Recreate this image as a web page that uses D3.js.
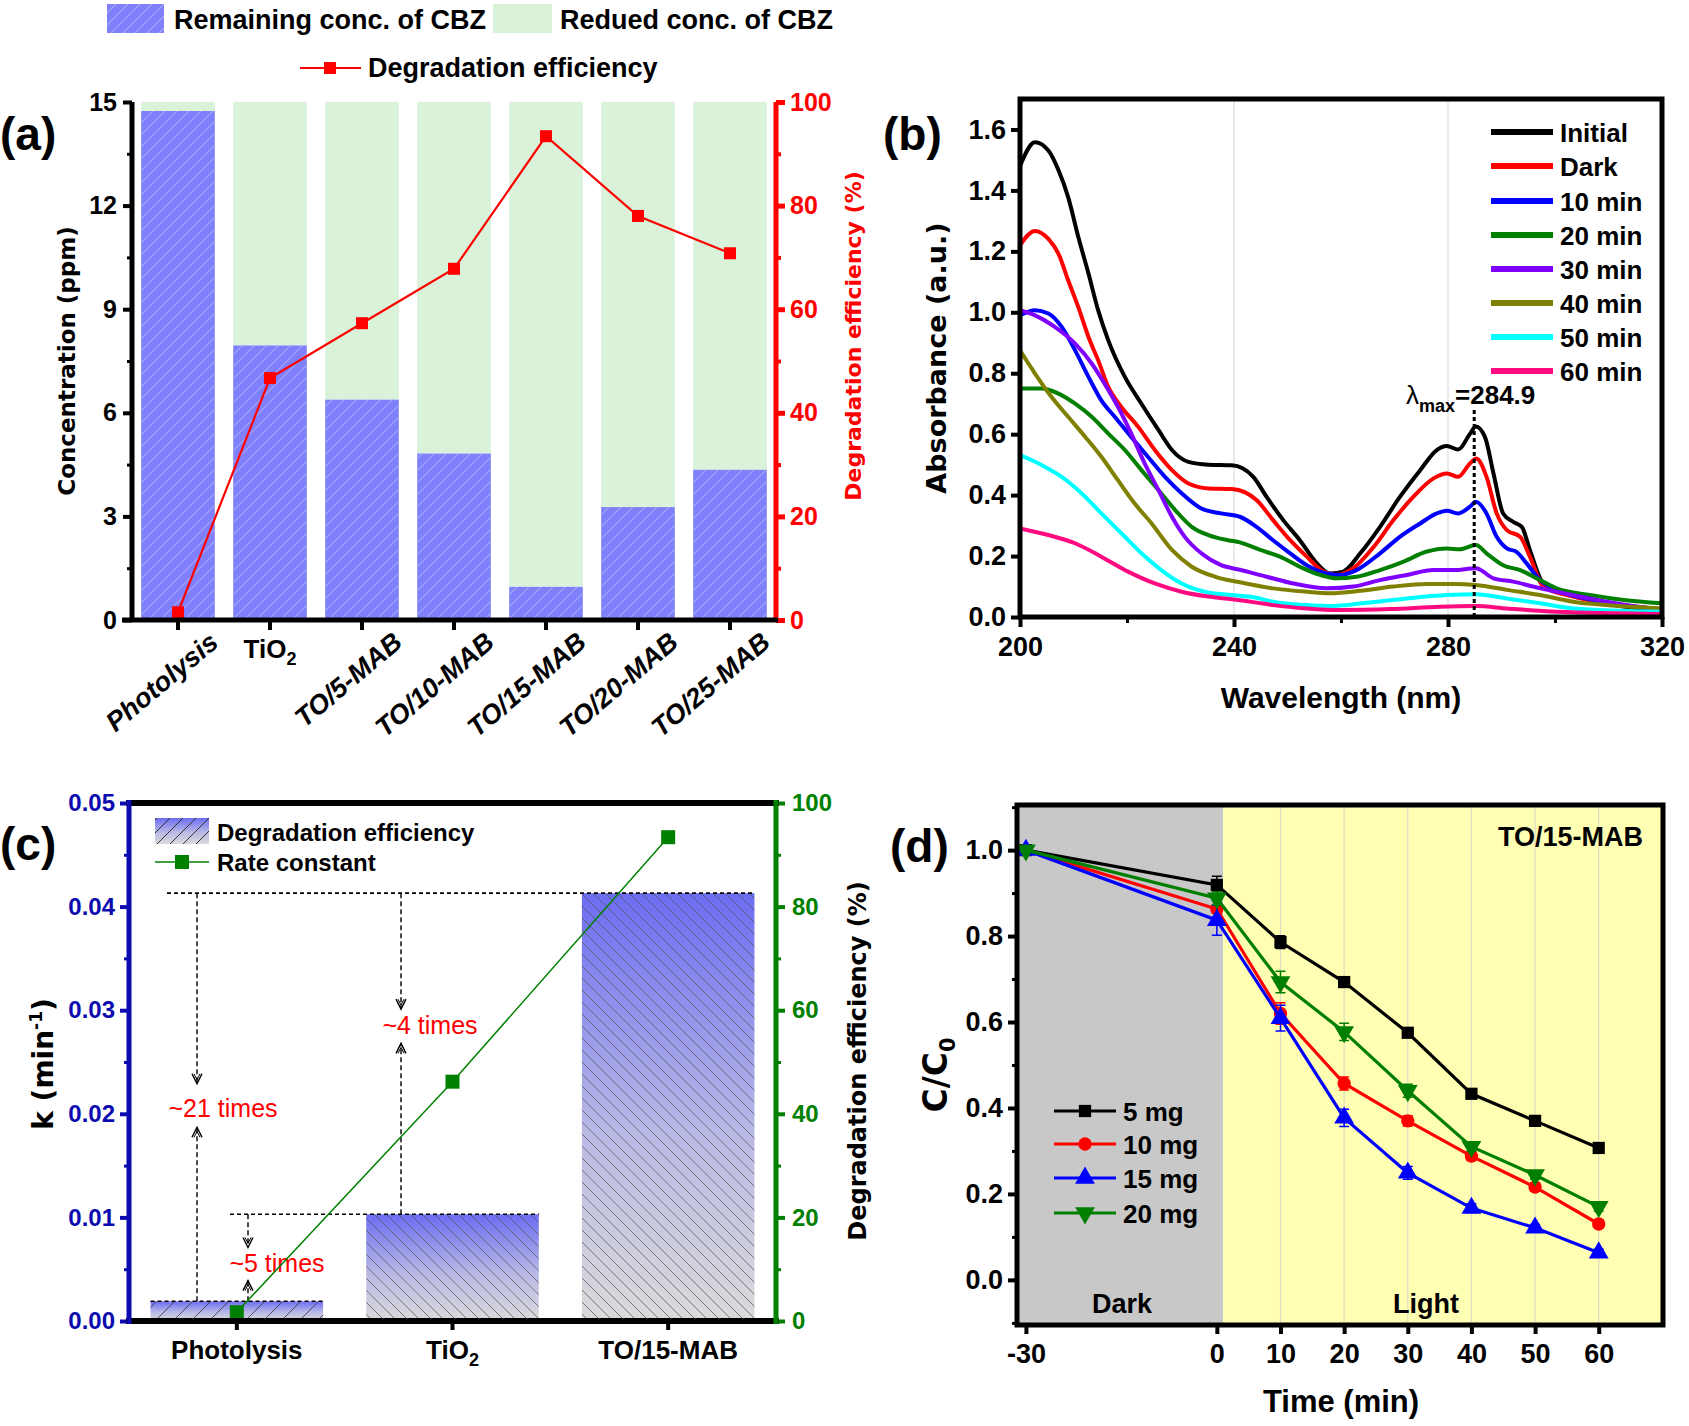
<!DOCTYPE html>
<html>
<head>
<meta charset="utf-8">
<script src="https://cdn.jsdelivr.net/npm/d3@7"></script>
<style>
  body { margin: 0; background: #fff; }
</style>
</head>
<body>
<script>
// ---------- data ----------
// (a) concentration of CBZ and degradation efficiency
var catsA = ["Photolysis", "TiO2", "TO/5-MAB", "TO/10-MAB", "TO/15-MAB", "TO/20-MAB", "TO/25-MAB"];
var initialConc = 15;
var remainingConc = [14.74, 7.95, 6.38, 4.82, 0.96, 3.27, 4.35];
var effA = [1.5, 46.7, 57.3, 67.8, 93.4, 78.0, 70.8];

// (b) UV-vis spectra, [wavelength nm, absorbance]
var specNames = ["Initial", "Dark", "10 min", "20 min", "30 min", "40 min", "50 min", "60 min"];
var specColors = ["#000000", "#ff0000", "#0000ff", "#007f00", "#8000ff", "#808000", "#00ffff", "#ff0a80"];
var specInitial = [[200,1.48],[202.8,1.558],[205.3,1.531],[207.2,1.466],[209,1.378],[210.9,1.247],[212.8,1.127],[214.6,1.007],[216.5,0.908],[219.6,0.788],[222.7,0.70],[225.9,0.613],[228.4,0.548],[231.5,0.509],[235.2,0.50],[239.6,0.498],[241.6,0.488],[243.6,0.46],[246.1,0.394],[249.2,0.318],[252.3,0.252],[255.5,0.176],[257.9,0.143],[260.4,0.149],[263.6,0.209],[267.3,0.296],[271,0.394],[274.8,0.482],[277.9,0.548],[279.8,0.561],[281.9,0.55],[284.1,0.601],[285.2,0.625],[286.9,0.591],[288.5,0.471],[290.3,0.34],[292.2,0.312],[293.8,0.296],[295.3,0.22],[297.8,0.11],[300.3,0.089],[306.5,0.056],[312.8,0.034],[320,0.023]];
var specDark = [[200,1.22],[202.8,1.267],[205.3,1.241],[207.2,1.192],[209,1.105],[210.9,1.017],[212.8,0.919],[214.6,0.843],[216.5,0.755],[218.9,0.69],[222.1,0.624],[225.2,0.548],[228.4,0.482],[231.5,0.438],[235.2,0.422],[239.6,0.42],[242,0.41],[244.2,0.384],[247.3,0.318],[250.5,0.252],[253.6,0.198],[256.7,0.149],[259.2,0.138],[262.3,0.16],[266.1,0.23],[269.8,0.318],[273.5,0.394],[277.3,0.455],[279.8,0.471],[281.9,0.46],[284.1,0.504],[285.3,0.52],[287.2,0.46],[289.1,0.34],[291,0.285],[293.5,0.263],[295.3,0.198],[297.8,0.10],[303.4,0.067],[310,0.045],[320,0.025]];
var spec10 = [[200,0.99],[202.8,1.007],[205.3,0.996],[207.8,0.952],[210.3,0.875],[212.8,0.788],[215.2,0.711],[217.7,0.657],[220.8,0.591],[223.9,0.526],[227.1,0.46],[230.2,0.406],[233.9,0.356],[237.6,0.34],[241.1,0.329],[244.2,0.296],[247.3,0.252],[250.5,0.209],[253.6,0.17],[257.3,0.143],[259.8,0.138],[262.9,0.154],[267.3,0.209],[271,0.263],[274.8,0.307],[277.9,0.34],[279.8,0.349],[281.9,0.34],[284.1,0.362],[285.2,0.378],[287.2,0.34],[289.1,0.263],[291,0.225],[292.8,0.214],[294.7,0.176],[297.2,0.121],[300.3,0.089],[306,0.06],[312,0.04],[320,0.025]];
var spec20 = [[200,0.75],[204.1,0.75],[207.2,0.733],[210.3,0.70],[213.4,0.657],[216.5,0.602],[219.6,0.548],[222.7,0.482],[225.9,0.416],[229,0.351],[232.1,0.296],[235.2,0.269],[238.9,0.252],[241.1,0.245],[244.9,0.22],[248.6,0.198],[252.3,0.165],[256.1,0.138],[259.2,0.127],[262.9,0.132],[267.3,0.154],[271.6,0.181],[275.9,0.214],[279.8,0.225],[282.2,0.222],[285.2,0.236],[287.2,0.209],[290.3,0.17],[293.5,0.154],[297.2,0.121],[300.3,0.094],[306.5,0.072],[312.8,0.056],[320,0.045]];
var spec30 = [[200,1.007],[202.8,0.99],[206.5,0.952],[210.3,0.897],[213.4,0.832],[215.8,0.766],[218.3,0.69],[220.8,0.602],[223.3,0.504],[225.9,0.416],[228.4,0.329],[230.8,0.263],[233.9,0.209],[237.6,0.17],[241.1,0.155],[246.1,0.132],[251.1,0.11],[257.3,0.094],[262.3,0.10],[267.3,0.121],[272.3,0.138],[277.3,0.154],[281,0.154],[285.2,0.16],[288.5,0.127],[292.2,0.116],[295.9,0.10],[300.3,0.083],[309.6,0.05],[320,0.023]];
var spec40 = [[200,0.875],[202.8,0.799],[205.9,0.722],[209,0.657],[212.2,0.591],[215.2,0.526],[218.3,0.449],[221.4,0.373],[224.6,0.307],[228.4,0.22],[232.1,0.165],[236.5,0.132],[241.1,0.114],[247.3,0.094],[253.6,0.083],[257.9,0.078],[263.6,0.086],[269.8,0.10],[276.1,0.108],[281,0.108],[285.2,0.105],[291,0.089],[297.2,0.072],[303.4,0.05],[309.6,0.039],[320,0.028]];
var spec50 = [[200,0.531],[204.1,0.498],[207.8,0.46],[211.5,0.406],[215.2,0.34],[219,0.274],[222.7,0.209],[226.4,0.154],[230.2,0.11],[234.5,0.083],[239.5,0.072],[243.9,0.064],[247.3,0.05],[253.6,0.039],[257.9,0.036],[264.8,0.047],[272.3,0.061],[279.8,0.072],[285.2,0.075],[291,0.061],[297.2,0.045],[303.4,0.028],[320,0.017]];
var spec60 = [[200,0.291],[205.3,0.269],[210.3,0.242],[215.2,0.198],[220.2,0.149],[225.2,0.11],[230.2,0.083],[235.2,0.067],[239.6,0.058],[243.9,0.048],[247.3,0.039],[253.6,0.028],[259.8,0.023],[269.2,0.026],[278.5,0.034],[285.2,0.036],[291,0.028],[300.3,0.017],[320,0.01]];
var spectra = [specInitial, specDark, spec10, spec20, spec30, spec40, spec50, spec60];
var lambdaMax = 284.9;

// (c) rate constants and degradation efficiency
var catsC = ["Photolysis", "TiO2", "TO/15-MAB"];
var kValues = [0.0019, 0.0103, 0.0413];
var effC = [1.7, 46.2, 93.4];

// (d) C/C0 vs time for catalyst doses
var timeD = [-30, 0, 10, 20, 30, 40, 50, 60];
var doseNames = ["5 mg", "10 mg", "15 mg", "20 mg"];
var doseColors = ["#000000", "#ff0000", "#0000ff", "#007f00"];
var mg5 = [1.0, 0.919, 0.786, 0.693, 0.575, 0.433, 0.37, 0.307];
var mg10 = [1.0, 0.863, 0.62, 0.457, 0.37, 0.288, 0.216, 0.13];
var mg15 = [1.0, 0.837, 0.609, 0.377, 0.249, 0.167, 0.121, 0.063];
var mg20 = [1.0, 0.888, 0.693, 0.577, 0.44, 0.31, 0.244, 0.17];
var err5 = [0.005, 0.02, 0.015, 0.012, 0.01, 0.008, 0.008, 0.008];
var err10 = [0.005, 0.02, 0.025, 0.015, 0.012, 0.01, 0.01, 0.008];
var err15 = [0.01, 0.035, 0.03, 0.02, 0.015, 0.01, 0.008, 0.008];
var err20 = [0.005, 0.015, 0.025, 0.02, 0.015, 0.01, 0.01, 0.01];

// ---------- setup ----------
var W = 1689, H = 1426;
var ARIAL = "'Liberation Sans', Arial, sans-serif";
var WIDE = "'DejaVu Sans', Verdana, sans-serif";

var svg = d3.select("body").append("svg")
    .attr("width", W).attr("height", H)
    .style("font-family", ARIAL).style("font-weight", "bold");
svg.append("rect").attr("width", W).attr("height", H).attr("fill", "#fff");
var defs = svg.append("defs");

function hatch(id, size, dir, color, sw) {
  var p = defs.append("pattern").attr("id", id)
      .attr("patternUnits", "userSpaceOnUse").attr("width", size).attr("height", size);
  var d = dir === "/"
    ? "M0," + size + "L" + size + ",0 M-3,3L3,-3 M" + (size - 3) + "," + (size + 3) + "L" + (size + 3) + "," + (size - 3)
    : "M0,0L" + size + "," + size + " M-3," + (size - 3) + "L3," + (size + 3) + " M" + (size - 3) + ",-3L" + (size + 3) + ",3";
  p.append("path").attr("d", d).attr("stroke", color).attr("stroke-width", sw).attr("fill", "none");
}
hatch("hatchA", 12, "/", "#a3a3ff", 1.2);
hatch("hatchBack", 12, "\\", "#555", 0.9);
hatch("hatchFwd", 18, "/", "#333", 1);
hatch("hatchLeg", 13, "/", "#333", 1);

var grad = defs.append("linearGradient").attr("id", "gradC")
    .attr("x1", 0).attr("y1", 0).attr("x2", 0).attr("y2", 1);
grad.append("stop").attr("offset", 0).attr("stop-color", "#6c6cf2");
grad.append("stop").attr("offset", 0.55).attr("stop-color", "#b8b8e6");
grad.append("stop").attr("offset", 1).attr("stop-color", "#dadada");

function fmtAxis(g, color, lw, fs) {
  g.attr("font-family", null).attr("font-size", null);
  g.select(".domain").remove();
  g.selectAll(".tick line").attr("stroke", color).attr("stroke-width", lw);
  g.selectAll(".tick text").attr("fill", color).style("font-size", fs + "px")
    .style("font-family", ARIAL).style("font-weight", "bold");
}

function vTitle(g, txt, x, y, size, color) {
  return g.append("text").attr("transform", "translate(" + x + "," + y + ") rotate(-90)")
      .attr("text-anchor", "middle").style("font-family", WIDE).style("font-size", size + "px")
      .attr("fill", color || "#000").text(txt);
}

// ======================= (a) =======================
var gA = svg.append("g");
var xA = d3.scaleBand().domain(catsA).range([132, 776]).paddingInner(0.2).paddingOuter(0.1);
var yA = d3.scaleLinear().domain([0, 15]).range([620, 102]);
var yA2 = d3.scaleLinear().domain([0, 100]).range([620, 102]);
var bwA = xA.bandwidth();

gA.selectAll("rect.reduced").data(catsA).join("rect")
  .attr("x", d => xA(d)).attr("width", bwA)
  .attr("y", yA(initialConc))
  .attr("height", (d, i) => yA(remainingConc[i]) - yA(initialConc))
  .attr("fill", "#d9f2d9");
gA.selectAll("rect.remaining").data(catsA).join("rect")
  .attr("x", d => xA(d)).attr("width", bwA)
  .attr("y", (d, i) => yA(remainingConc[i]))
  .attr("height", (d, i) => yA(0) - yA(remainingConc[i]))
  .attr("fill", "#8080fc");
gA.selectAll("rect.hatchA").data(catsA).join("rect")
  .attr("x", d => xA(d)).attr("width", bwA)
  .attr("y", (d, i) => yA(remainingConc[i]))
  .attr("height", (d, i) => yA(0) - yA(remainingConc[i]))
  .attr("fill", "url(#hatchA)");

var lineA = d3.line().x((d, i) => xA(catsA[i]) + bwA / 2).y(d => yA2(d));
gA.append("path").attr("d", lineA(effA)).attr("fill", "none").attr("stroke", "#ff0000").attr("stroke-width", 2.2);
gA.selectAll("rect.markA").data(effA).join("rect")
  .attr("x", (d, i) => xA(catsA[i]) + bwA / 2 - 6).attr("y", d => yA2(d) - 6)
  .attr("width", 12).attr("height", 12).attr("fill", "#ff0000");

gA.append("g").attr("transform", "translate(132,0)")
  .call(d3.axisLeft(yA).tickValues([0, 3, 6, 9, 12, 15]).tickSize(9).tickPadding(6))
  .call(fmtAxis, "#000", 4, 25);
gA.append("g").attr("transform", "translate(132,0)")
  .call(d3.axisLeft(yA).tickValues([1.5, 4.5, 7.5, 10.5, 13.5]).tickSize(5).tickFormat(""))
  .call(fmtAxis, "#000", 3, 25);
gA.append("g").attr("transform", "translate(776,0)")
  .call(d3.axisRight(yA2).tickValues([0, 20, 40, 60, 80, 100]).tickSize(9).tickPadding(5))
  .call(fmtAxis, "#ff0000", 5, 25);
gA.append("g").attr("transform", "translate(776,0)")
  .call(d3.axisRight(yA2).tickValues([10, 30, 50, 70, 90]).tickSize(5).tickFormat(""))
  .call(fmtAxis, "#ff0000", 4, 25);
gA.append("g").attr("transform", "translate(0,620)")
  .call(d3.axisBottom(xA).tickSize(10).tickFormat(""))
  .call(fmtAxis, "#000", 4, 25);
gA.append("line").attr("x1", 132).attr("x2", 132).attr("y1", 622).attr("y2", 102).attr("stroke", "#000").attr("stroke-width", 5);
gA.append("line").attr("x1", 776).attr("x2", 776).attr("y1", 622).attr("y2", 102).attr("stroke", "#ff0000").attr("stroke-width", 5);
gA.append("line").attr("x1", 122).attr("x2", 778).attr("y1", 620).attr("y2", 620).attr("stroke", "#000").attr("stroke-width", 5);

catsA.forEach(function (c) {
  var cx = xA(c) + bwA / 2;
  if (c === "TiO2") {
    var t = gA.append("text").attr("x", cx).attr("y", 658).attr("text-anchor", "middle").style("font-size", "26px");
    t.append("tspan").text("TiO");
    t.append("tspan").attr("dy", 7).style("font-size", "18px").text("2");
  } else {
    gA.append("text").attr("transform", "translate(" + (cx + 42) + ",645) rotate(-40)")
      .attr("text-anchor", "end").style("font-size", "27px").style("font-style", "italic").text(c);
  }
});

vTitle(gA, "Concentration (ppm)", 75, 361, 23);
vTitle(gA, "Degradation efficiency (%)", 861, 336, 22, "#ff0000");
gA.append("text").attr("x", 0).attr("y", 150).style("font-size", "46px").text("(a)");

// legend (a)
gA.append("rect").attr("x", 107).attr("y", 4).attr("width", 57).attr("height", 29).attr("fill", "#8080fc");
gA.append("rect").attr("x", 107).attr("y", 4).attr("width", 57).attr("height", 29).attr("fill", "url(#hatchA)");
gA.append("text").attr("x", 174).attr("y", 29).style("font-size", "27px").text("Remaining conc. of CBZ");
gA.append("rect").attr("x", 493).attr("y", 4).attr("width", 59).attr("height", 29).attr("fill", "#d9f2d9");
gA.append("text").attr("x", 560).attr("y", 29).style("font-size", "27px").text("Redued conc. of CBZ");
gA.append("line").attr("x1", 300).attr("x2", 361).attr("y1", 68).attr("y2", 68).attr("stroke", "#ff0000").attr("stroke-width", 2.2);
gA.append("rect").attr("x", 324).attr("y", 62).attr("width", 12).attr("height", 12).attr("fill", "#ff0000");
gA.append("text").attr("x", 368).attr("y", 77).style("font-size", "27px").text("Degradation efficiency");

// ======================= (b) =======================
var gB = svg.append("g");
var xB = d3.scaleLinear().domain([200, 320]).range([1020, 1662]);
var yB = d3.scaleLinear().domain([0, 1.7]).range([617, 99]);

[240, 280].forEach(function (v) {
  gB.append("line").attr("x1", xB(v)).attr("x2", xB(v)).attr("y1", 99).attr("y2", 617)
    .attr("stroke", "#dcdcdc").attr("stroke-width", 1.2);
});
defs.append("clipPath").attr("id", "clipB").append("rect")
  .attr("x", 1020).attr("y", 99).attr("width", 642).attr("height", 518);
var lineB = d3.line().x(d => xB(d[0])).y(d => yB(d[1])).curve(d3.curveMonotoneX);
gB.append("g").attr("clip-path", "url(#clipB)")
  .selectAll("path").data(spectra).join("path")
  .attr("d", d => lineB(d)).attr("fill", "none")
  .attr("stroke", (d, i) => specColors[i]).attr("stroke-width", 4).attr("stroke-linejoin", "round");

gB.append("line").attr("x1", xB(lambdaMax)).attr("x2", xB(lambdaMax)).attr("y1", 410).attr("y2", 617)
  .attr("stroke", "#000").attr("stroke-width", 3).attr("stroke-dasharray", "4,3");
var lt = gB.append("text").attr("x", 1406).attr("y", 404).style("font-size", "26px");
lt.append("tspan").style("font-weight", "normal").text("λ");
lt.append("tspan").attr("dy", 8).style("font-size", "18px").text("max");
lt.append("tspan").attr("dy", -8).text("=284.9");

gB.append("g").attr("transform", "translate(1020,0)")
  .call(d3.axisLeft(yB).tickValues(d3.range(0, 1.61, 0.2)).tickSize(9).tickPadding(5).tickFormat(d3.format(".1f")))
  .call(fmtAxis, "#000", 4, 27);
gB.append("g").attr("transform", "translate(0,617)")
  .call(d3.axisBottom(xB).tickValues([200, 240, 280, 320]).tickSize(10).tickPadding(10))
  .call(fmtAxis, "#000", 4, 27);
gB.append("g").attr("transform", "translate(0,617)")
  .call(d3.axisBottom(xB).tickValues([220, 260, 300]).tickSize(6).tickFormat(""))
  .call(fmtAxis, "#000", 3, 27);
gB.append("rect").attr("x", 1020).attr("y", 99).attr("width", 642).attr("height", 518)
  .attr("fill", "none").attr("stroke", "#000").attr("stroke-width", 5);

var legB = gB.selectAll("g.legB").data(specNames).join("g")
  .attr("transform", (d, i) => "translate(0," + [132, 166, 201, 235, 269, 303, 337, 371][i] + ")");
legB.append("line").attr("x1", 1491).attr("x2", 1553).attr("stroke", (d, i) => specColors[i]).attr("stroke-width", 6);
legB.append("text").attr("x", 1560).attr("y", 10).style("font-size", "26px").text(d => d);

vTitle(gB, "Absorbance (a.u.)", 946, 358, 27);
gB.append("text").attr("x", 1341).attr("y", 708).attr("text-anchor", "middle").style("font-size", "30px").text("Wavelength (nm)");
gB.append("text").attr("x", 883).attr("y", 150).style("font-size", "46px").text("(b)");

// ======================= (c) =======================
var gC = svg.append("g");
var xC = d3.scaleBand().domain(catsC).range([129, 776]).paddingInner(0.2).paddingOuter(0.1);
var yC = d3.scaleLinear().domain([0, 0.05]).range([1321, 803]);
var yC2 = d3.scaleLinear().domain([0, 100]).range([1321, 803]);
var bwC = xC.bandwidth();
var BLUE = "#0b0bb0", GREEN = "#008000";

gC.selectAll("rect.barC").data(catsC).join("rect")
  .attr("x", d => xC(d)).attr("width", bwC)
  .attr("y", (d, i) => yC(kValues[i])).attr("height", (d, i) => yC(0) - yC(kValues[i]))
  .attr("fill", "url(#gradC)");
gC.selectAll("rect.hatchC").data(catsC).join("rect")
  .attr("x", d => xC(d)).attr("width", bwC)
  .attr("y", (d, i) => yC(kValues[i])).attr("height", (d, i) => yC(0) - yC(kValues[i]))
  .attr("fill", (d, i) => i === 0 ? "url(#hatchFwd)" : "url(#hatchBack)").attr("opacity", 0.8);

// dashed guides and arrows
var guides = [
  { k: kValues[2], x1: 167, x2: xC(catsC[2]) + bwC },
  { k: kValues[1], x1: 230, x2: xC(catsC[1]) + bwC },
  { k: kValues[0], x1: xC(catsC[0]), x2: xC(catsC[0]) + bwC }
];
guides.forEach(function (g) {
  gC.append("line").attr("x1", g.x1).attr("x2", g.x2).attr("y1", yC(g.k)).attr("y2", yC(g.k))
    .attr("stroke", "#000").attr("stroke-width", 1.6).attr("stroke-dasharray", "4,3");
});
var arrows = [
  { x: 197, from: kValues[2], to: 0.0229 }, { x: 197, from: kValues[0], to: 0.0187 },
  { x: 401, from: kValues[2], to: 0.0301 }, { x: 401, from: kValues[1], to: 0.0268 },
  { x: 248, from: kValues[1], to: 0.0071 }, { x: 248, from: kValues[0], to: 0.0039 }
];
arrows.forEach(function (a) {
  var y0 = yC(a.from), y1 = yC(a.to), dir = y1 > y0 ? 1 : -1;
  gC.append("line").attr("x1", a.x).attr("x2", a.x).attr("y1", y0).attr("y2", y1)
    .attr("stroke", "#000").attr("stroke-width", 1.4).attr("stroke-dasharray", "5,3");
  gC.append("path").attr("d", "M" + (a.x - 5) + "," + (y1 - 10 * dir) + "L" + a.x + "," + y1 + "L" + (a.x + 5) + "," + (y1 - 10 * dir))
    .attr("fill", "none").attr("stroke", "#000").attr("stroke-width", 1.4);
  gC.append("path").attr("d", "M" + (a.x - 3) + "," + (y1 - 10 * dir) + "L" + a.x + "," + (y1 - 4 * dir) + "L" + (a.x + 3) + "," + (y1 - 10 * dir))
    .attr("fill", "none").attr("stroke", "#000").attr("stroke-width", 1);
});
var notes = [
  { t: "~21 times", x: 223, k: 0.0197 },
  { t: "~4 times", x: 430, k: 0.0277 },
  { t: "~5 times", x: 277, k: 0.0047 }
];
gC.selectAll("text.note").data(notes).join("text")
  .attr("x", d => d.x).attr("y", d => yC(d.k)).attr("text-anchor", "middle")
  .style("font-size", "25px").style("font-weight", "normal").attr("fill", "#ff0000").text(d => d.t);

var lineC = d3.line().x((d, i) => xC(catsC[i]) + bwC / 2).y(d => yC2(d));
gC.append("path").attr("d", lineC(effC)).attr("fill", "none").attr("stroke", GREEN).attr("stroke-width", 1.5);
gC.selectAll("rect.markC").data(effC).join("rect")
  .attr("x", (d, i) => xC(catsC[i]) + bwC / 2 - 7).attr("y", d => yC2(d) - 7)
  .attr("width", 14).attr("height", 14).attr("fill", GREEN);

gC.append("g").attr("transform", "translate(129,0)")
  .call(d3.axisLeft(yC).tickValues(d3.range(0, 0.0501, 0.01)).tickSize(9).tickPadding(5).tickFormat(d3.format(".2f")))
  .call(fmtAxis, BLUE, 4, 24);
gC.append("g").attr("transform", "translate(129,0)")
  .call(d3.axisLeft(yC).tickValues(d3.range(0.005, 0.05, 0.01)).tickSize(5).tickFormat(""))
  .call(fmtAxis, BLUE, 3, 24);
gC.append("g").attr("transform", "translate(776,0)")
  .call(d3.axisRight(yC2).tickValues([0, 20, 40, 60, 80, 100]).tickSize(9).tickPadding(7))
  .call(fmtAxis, GREEN, 4, 24);
gC.append("g").attr("transform", "translate(776,0)")
  .call(d3.axisRight(yC2).tickValues([10, 30, 50, 70, 90]).tickSize(5).tickFormat(""))
  .call(fmtAxis, GREEN, 3, 24);
gC.append("g").attr("transform", "translate(0,1321)")
  .call(d3.axisBottom(xC).tickSize(9).tickFormat(""))
  .call(fmtAxis, "#000", 4, 24);
gC.append("line").attr("x1", 126).attr("x2", 779).attr("y1", 803).attr("y2", 803).attr("stroke", "#000").attr("stroke-width", 6);
gC.append("line").attr("x1", 126).attr("x2", 779).attr("y1", 1321).attr("y2", 1321).attr("stroke", "#000").attr("stroke-width", 6);
gC.append("line").attr("x1", 129).attr("x2", 129).attr("y1", 800).attr("y2", 1324).attr("stroke", BLUE).attr("stroke-width", 5);
gC.append("line").attr("x1", 776).attr("x2", 776).attr("y1", 800).attr("y2", 1324).attr("stroke", GREEN).attr("stroke-width", 5);

catsC.forEach(function (c) {
  var t = gC.append("text").attr("x", xC(c) + bwC / 2).attr("y", 1359).attr("text-anchor", "middle").style("font-size", "26px");
  if (c === "TiO2") {
    t.append("tspan").text("TiO");
    t.append("tspan").attr("dy", 7).style("font-size", "18px").text("2");
  } else {
    t.text(c);
  }
});

// legend (c)
gC.append("rect").attr("x", 155).attr("y", 818).attr("width", 54).attr("height", 26).attr("fill", "url(#gradC)");
gC.append("rect").attr("x", 155).attr("y", 818).attr("width", 54).attr("height", 26).attr("fill", "url(#hatchLeg)");
gC.append("text").attr("x", 217).attr("y", 841).style("font-size", "24px").text("Degradation efficiency");
gC.append("line").attr("x1", 155).attr("x2", 209).attr("y1", 862).attr("y2", 862).attr("stroke", GREEN).attr("stroke-width", 1.5);
gC.append("rect").attr("x", 175).attr("y", 855).attr("width", 14).attr("height", 14).attr("fill", GREEN);
gC.append("text").attr("x", 217).attr("y", 871).style("font-size", "24px").text("Rate constant");

var kt = gC.append("text").attr("transform", "translate(53,1064) rotate(-90)").attr("text-anchor", "middle")
  .style("font-family", WIDE).style("font-size", "28px");
kt.append("tspan").text("k (min");
kt.append("tspan").attr("dy", -11).style("font-size", "17px").text("-1");
kt.append("tspan").attr("dy", 11).text(")");
vTitle(gC, "Degradation efficiency (%)", 866, 1061, 24);
gC.append("text").attr("x", 0).attr("y", 860).style("font-size", "46px").text("(c)");

// ======================= (d) =======================
var gD = svg.append("g");
var xD = d3.scaleLinear().domain([-31.4, 70.1]).range([1017, 1663]);
var yD = d3.scaleLinear().domain([-0.105, 1.105]).range([1325, 805]);
var darkEnd = 1;

gD.append("rect").attr("x", xD(-31.4)).attr("y", 805).attr("width", xD(darkEnd) - xD(-31.4)).attr("height", 520).attr("fill", "#c8c8c8");
gD.append("rect").attr("x", xD(darkEnd)).attr("y", 805).attr("width", xD(70.1) - xD(darkEnd)).attr("height", 520).attr("fill", "#ffffb3");
[10, 20, 30, 40, 50, 60].forEach(function (v) {
  gD.append("line").attr("x1", xD(v)).attr("x2", xD(v)).attr("y1", 805).attr("y2", 1325)
    .attr("stroke", "#dcdcc4").attr("stroke-width", 1.2);
});
gD.append("text").attr("x", 1122).attr("y", 1313).attr("text-anchor", "middle").style("font-size", "27px").text("Dark");
gD.append("text").attr("x", 1426).attr("y", 1313).attr("text-anchor", "middle").style("font-size", "27px").text("Light");
gD.append("text").attr("x", 1643).attr("y", 846).attr("text-anchor", "end").style("font-size", "27px").text("TO/15-MAB");

var doses = [mg5, mg10, mg15, mg20];
var errs = [err5, err10, err15, err20];
var symTypes = [d3.symbolSquare, d3.symbolCircle, d3.symbolTriangle, d3.symbolTriangle];
var symSizes = [150, 140, 170, 170];
var symRot = [0, 0, 0, 180];
var lineD = d3.line().x((d, i) => xD(timeD[i])).y(d => yD(d));

doses.forEach(function (vals, s) {
  var col = doseColors[s];
  var g = gD.append("g");
  vals.forEach(function (v, i) {
    var x = xD(timeD[i]), e = errs[s][i];
    g.append("path").attr("d", "M" + x + "," + yD(v - e) + "V" + yD(v + e) +
        "M" + (x - 5) + "," + yD(v - e) + "H" + (x + 5) + "M" + (x - 5) + "," + yD(v + e) + "H" + (x + 5))
      .attr("stroke", col).attr("stroke-width", 1.5).attr("fill", "none");
  });
  g.append("path").attr("d", lineD(vals)).attr("fill", "none").attr("stroke", col).attr("stroke-width", 3.2);
  g.selectAll("path.m").data(vals).join("path")
    .attr("transform", (d, i) => "translate(" + xD(timeD[i]) + "," + yD(d) + ") rotate(" + symRot[s] + ")")
    .attr("d", d3.symbol().type(symTypes[s]).size(symSizes[s])).attr("fill", col);
});

gD.append("g").attr("transform", "translate(1017,0)")
  .call(d3.axisLeft(yD).tickValues([0, 0.2, 0.4, 0.6, 0.8, 1.0]).tickSize(9).tickPadding(5).tickFormat(d3.format(".1f")))
  .call(fmtAxis, "#000", 4, 27);
gD.append("g").attr("transform", "translate(1017,0)")
  .call(d3.axisLeft(yD).tickValues([-0.1, 0.1, 0.3, 0.5, 0.7, 0.9, 1.1]).tickSize(5).tickFormat(""))
  .call(fmtAxis, "#000", 3, 27);
gD.append("g").attr("transform", "translate(0,1325)")
  .call(d3.axisBottom(xD).tickValues([-30, 0, 10, 20, 30, 40, 50, 60]).tickSize(9).tickPadding(10).tickFormat(d => String(d)))
  .call(fmtAxis, "#000", 4, 27);
gD.append("rect").attr("x", 1017).attr("y", 805).attr("width", 646).attr("height", 520)
  .attr("fill", "none").attr("stroke", "#000").attr("stroke-width", 5);

// legend (d)
var legD = gD.selectAll("g.legD").data(doseNames).join("g")
  .attr("transform", (d, i) => "translate(0," + [1111, 1144, 1178, 1213][i] + ")");
legD.append("line").attr("x1", 1054).attr("x2", 1116).attr("stroke", (d, i) => doseColors[i]).attr("stroke-width", 3.2);
legD.append("path").attr("transform", (d, i) => "translate(1085,0) rotate(" + symRot[i] + ")")
  .attr("d", (d, i) => d3.symbol().type(symTypes[i]).size(symSizes[i])()).attr("fill", (d, i) => doseColors[i]);
legD.append("text").attr("x", 1123).attr("y", 10).style("font-size", "26px").text(d => d);

var ct = gD.append("text").attr("transform", "translate(947,1075) rotate(-90)").attr("text-anchor", "middle")
  .style("font-family", WIDE).style("font-size", "33px");
ct.append("tspan").text("C/C");
ct.append("tspan").attr("dy", 8).style("font-size", "21px").text("0");
gD.append("text").attr("x", 1341).attr("y", 1412).attr("text-anchor", "middle").style("font-size", "31px").text("Time (min)");
gD.append("text").attr("x", 890).attr("y", 862).style("font-size", "46px").text("(d)");
</script>
</body>
</html>
